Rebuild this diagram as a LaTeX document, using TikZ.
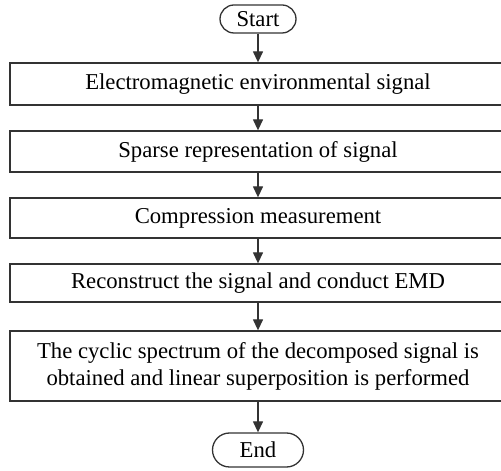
\documentclass[tikz,border=0pt]{standalone}
\usepackage{fontspec}
\setmainfont{Liberation Serif}
\usetikzlibrary{arrows.meta}
\tikzset{
  stepbox/.style={draw=black!80, line width=1.3pt, rectangle, minimum width=496pt, inner sep=0pt, align=center, font=\fontsize{22.7}{27}\selectfont, text=black},
  term/.style={draw=black!80, line width=1.3pt, rectangle, rounded corners=14pt, inner sep=0pt, font=\fontsize{22.7}{27}\selectfont, text=black},
  conn/.style={draw=black!80, line width=1.3pt, -{Triangle[width=10pt,length=11pt]}}
}
\begin{document}
\begin{tikzpicture}[x=1pt,y=1pt]
\useasboundingbox (0,0) rectangle (501,471);
\node[term, minimum width=76pt, minimum height=28pt] (start) at (258,452) {Start};
\node[stepbox, minimum height=42pt] (b1) at (258,387) {Electromagnetic environmental signal};
\node[stepbox, minimum height=41pt] (b2) at (258,319.5) {Sparse representation of signal};
\node[stepbox, minimum height=40pt] (b3) at (258,253) {Compression measurement};
\node[stepbox, minimum height=38pt] (b4) at (258,188) {Reconstruct the signal and conduct EMD};
\node[stepbox, minimum height=70pt] (b5) at (258,105) {The cyclic spectrum of the decomposed signal is\\obtained and linear superposition is performed};
\node[term, minimum width=91pt, minimum height=34pt, rounded corners=17pt] (end) at (258,21) {End};
\draw[conn] (start) -- (b1);
\draw[conn] (b1) -- (b2);
\draw[conn] (b2) -- (b3);
\draw[conn] (b3) -- (b4);
\draw[conn] (b4) -- (b5);
\draw[conn] (b5) -- (end);
\end{tikzpicture}
\end{document}
